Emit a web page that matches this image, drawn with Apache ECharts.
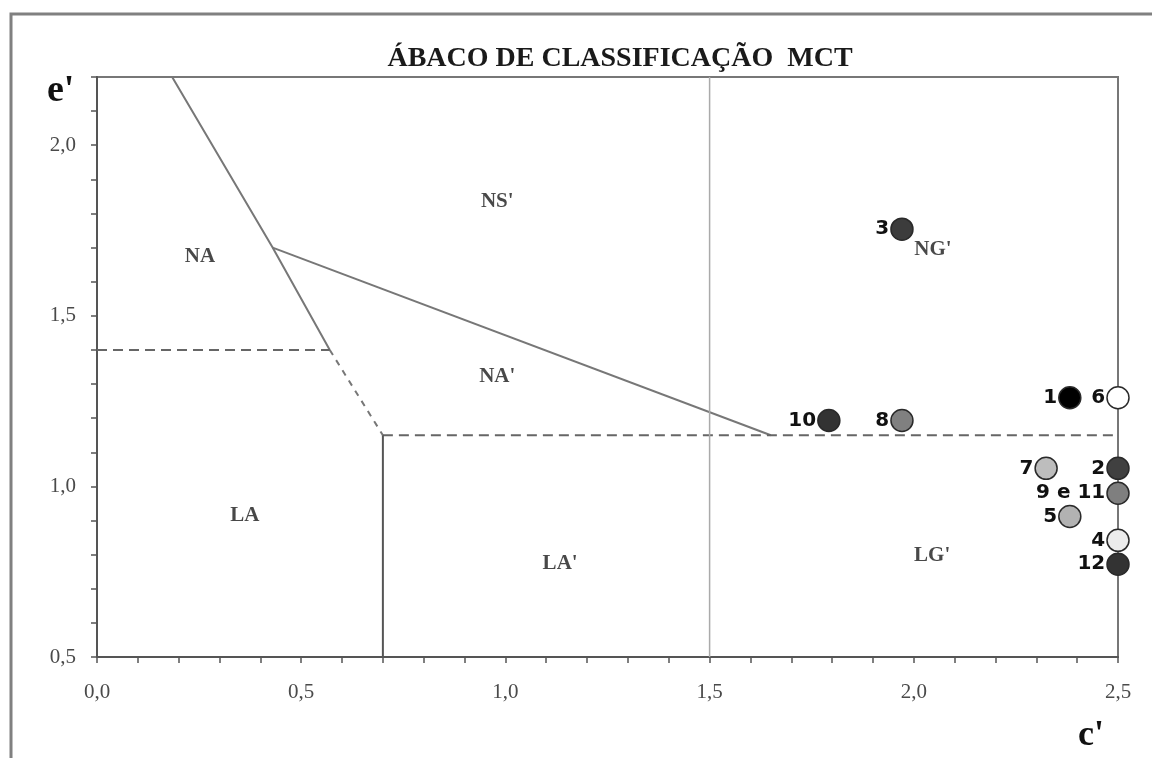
<!DOCTYPE html>
<html>
<head>
<meta charset="utf-8">
<script src="https://cdn.jsdelivr.net/npm/echarts@6/dist/echarts.min.js"></script>
<style>html,body{margin:0;padding:0;background:#fff}#c{width:1152px;height:758px}</style>
</head>
<body>
<div id="c"></div>
<script>
// ---- data ----
const titleText = 'ÁBACO DE CLASSIFICAÇÃO  MCT';
const xName = "c'";
const yName = "e'";
// boundary lines (c', e')
const lineNA = [[0.184, 2.2], [0.43, 1.70], [0.57, 1.40]];
const lineNADashed = [[0.57, 1.40], [0.70, 1.15]];
const lineNS = [[0.43, 1.70], [1.65, 1.15]];
const dashed140 = [[0.0, 1.40], [0.57, 1.40]];
const dashed115 = [[0.70, 1.15], [2.5, 1.15]];
const vertical070 = [[0.70, 0.5], [0.70, 1.15]];
const vertical150 = [[1.5, 0.5], [1.5, 2.2]];
// region labels
const regionNames = ["NS'", 'NA', "NG'", "NA'", 'LA', "LA'", "LG'"];
const regionPos = [[0.98, 1.836], [0.252, 1.675], [2.047, 1.693], [0.98, 1.322], [0.362, 0.915], [1.134, 0.775], [2.045, 0.798]];
// samples
const sampleNames = ['1', '6', '10', '8', '3', '7', '2', '9 e 11', '5', '4', '12'];
const sampleC = [2.382, 2.5, 1.792, 1.971, 1.971, 2.324, 2.5, 2.5, 2.382, 2.5, 2.5];
const sampleE = [1.260, 1.260, 1.193, 1.193, 1.754, 1.053, 1.053, 0.980, 0.912, 0.842, 0.772];
const sampleColors = ['#000000', '#ffffff', '#333333', '#808080', '#3c3c3c', '#bdbdbd', '#404040', '#7f7f7f', '#b2b2b2', '#ececec', '#333333'];

const serif = 'Liberation Serif';
const fmt = v => (Math.abs(v * 2 - Math.round(v * 2)) < 1e-6) ? v.toFixed(1).replace('.', ',') : '';

function lineSeries(data, color, width, type) {
  return {
    type: 'line', data: data, symbol: 'none', silent: true, z: 2,
    lineStyle: { color: color, width: width, type: type || 'solid', dashOffset: 0 },
    animation: false
  };
}
const dash = [10, 6];

const chart = echarts.init(document.getElementById('c'), null, { renderer: 'canvas' });
chart.setOption({
  backgroundColor: '#ffffff',
  animation: false,
  title: {
    text: titleText, left: 615, top: 40, textAlign: 'center',
    textStyle: { fontFamily: serif, fontWeight: 'bold', fontSize: 28, color: '#1a1a1a' }
  },
  grid: { left: 97, right: 34, top: 77, bottom: 101, show: true, borderColor: '#777', borderWidth: 2 },
  xAxis: {
    type: 'value', min: 0, max: 2.5, interval: 0.1,
    axisLine: { show: true, lineStyle: { color: '#555', width: 2 } },
    axisTick: { show: true, length: 6, lineStyle: { color: '#555', width: 1.5 } },
    splitLine: { show: false },
    axisLabel: { formatter: fmt, margin: 25, fontFamily: serif, fontSize: 21, color: '#4a4a4a' }
  },
  yAxis: {
    type: 'value', min: 0.5, max: 2.2, interval: 0.1,
    axisLine: { show: true, lineStyle: { color: '#555', width: 2 } },
    axisTick: { show: true, length: 6, lineStyle: { color: '#555', width: 1.5 } },
    splitLine: { show: false },
    axisLabel: { formatter: fmt, margin: 21, fontFamily: serif, fontSize: 21, color: '#4a4a4a' }
  },
  graphic: [
    { type: 'rect', silent: true, z: -1, shape: { x: 11, y: 14, width: 1400, height: 1000 }, style: { fill: 'none', stroke: '#808080', lineWidth: 3 } },
    { type: 'text', left: 47, top: 72, style: { text: yName, fontFamily: serif, fontWeight: 'bold', fontSize: 38, fill: '#111' } },
    { type: 'text', left: 1078, top: 718, style: { text: xName, fontFamily: serif, fontWeight: 'bold', fontSize: 36, fill: '#111' } }
  ],
  series: [
    lineSeries(lineNA, '#777', 2),
    lineSeries(lineNADashed, '#777', 2, [6, 6]),
    lineSeries(lineNS, '#777', 2),
    lineSeries(dashed140, '#666', 2, dash),
    lineSeries(dashed115, '#666', 2, dash),
    lineSeries(vertical070, '#555', 2),
    lineSeries(vertical150, '#aaa', 1.5),
    {
      type: 'scatter', symbolSize: 0, silent: true, z: 3,
      data: regionNames.map((n, i) => ({ name: n, value: regionPos[i] })),
      label: { show: true, position: 'inside', formatter: p => p.name, fontFamily: serif, fontWeight: 'bold', fontSize: 21, color: '#1a1a1a' }
    },
    {
      type: 'scatter', symbol: 'circle', symbolSize: 22, z: 5, silent: true,
      data: sampleNames.map((n, i) => ({ name: n, value: [sampleC[i], sampleE[i]], itemStyle: { color: sampleColors[i] } })),
      itemStyle: { borderColor: '#2a2a2a', borderWidth: 1.5, opacity: 1 },
      label: { show: true, position: 'left', distance: 1, formatter: p => p.name, fontFamily: 'DejaVu Sans', fontWeight: 'bold', fontSize: 20, color: '#111' }
    }
  ]
});
</script>
</body>
</html>
